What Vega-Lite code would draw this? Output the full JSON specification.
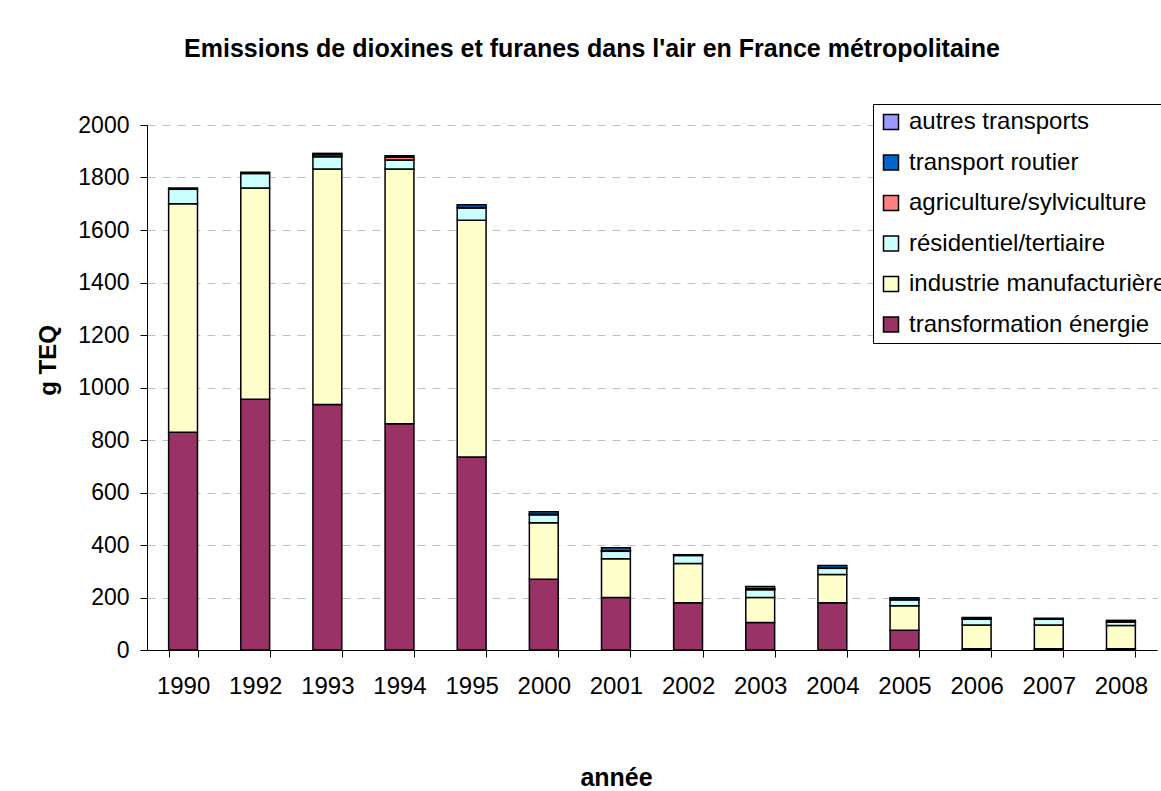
{
  "$schema": "https://vega.github.io/schema/vega-lite/v6.json",
  "width": 1010,
  "height": 525,
  "autosize": "none",
  "padding": {"left": 147, "top": 125, "right": 4, "bottom": 141},
  "background": "white",
  "title": {
    "text": "Emissions de dioxines et furanes dans l'air en France métropolitaine",
    "font": "Liberation Sans",
    "fontSize": 25,
    "fontWeight": "bold",
    "color": "black",
    "anchor": "middle",
    "dx": -60,
    "offset": 42
  },
  "data": {
    "values": [
      {"annee": "1990", "secteur": "transformation énergie", "valeur": 830},
      {"annee": "1990", "secteur": "industrie manufacturière", "valeur": 870},
      {"annee": "1990", "secteur": "résidentiel/tertiaire", "valeur": 55},
      {"annee": "1990", "secteur": "transport routier", "valeur": 5},
      {"annee": "1992", "secteur": "transformation énergie", "valeur": 955},
      {"annee": "1992", "secteur": "industrie manufacturière", "valeur": 805},
      {"annee": "1992", "secteur": "résidentiel/tertiaire", "valeur": 55},
      {"annee": "1992", "secteur": "transport routier", "valeur": 5},
      {"annee": "1993", "secteur": "transformation énergie", "valeur": 935},
      {"annee": "1993", "secteur": "industrie manufacturière", "valeur": 897},
      {"annee": "1993", "secteur": "résidentiel/tertiaire", "valeur": 47},
      {"annee": "1993", "secteur": "agriculture/sylviculture", "valeur": 2},
      {"annee": "1993", "secteur": "transport routier", "valeur": 8},
      {"annee": "1993", "secteur": "autres transports", "valeur": 3},
      {"annee": "1994", "secteur": "transformation énergie", "valeur": 862},
      {"annee": "1994", "secteur": "industrie manufacturière", "valeur": 970},
      {"annee": "1994", "secteur": "résidentiel/tertiaire", "valeur": 35},
      {"annee": "1994", "secteur": "agriculture/sylviculture", "valeur": 10},
      {"annee": "1994", "secteur": "transport routier", "valeur": 6},
      {"annee": "1995", "secteur": "transformation énergie", "valeur": 735},
      {"annee": "1995", "secteur": "industrie manufacturière", "valeur": 902},
      {"annee": "1995", "secteur": "résidentiel/tertiaire", "valeur": 47},
      {"annee": "1995", "secteur": "agriculture/sylviculture", "valeur": 2},
      {"annee": "1995", "secteur": "transport routier", "valeur": 10},
      {"annee": "2000", "secteur": "transformation énergie", "valeur": 270},
      {"annee": "2000", "secteur": "industrie manufacturière", "valeur": 215},
      {"annee": "2000", "secteur": "résidentiel/tertiaire", "valeur": 30},
      {"annee": "2000", "secteur": "agriculture/sylviculture", "valeur": 2},
      {"annee": "2000", "secteur": "transport routier", "valeur": 10},
      {"annee": "2001", "secteur": "transformation énergie", "valeur": 200},
      {"annee": "2001", "secteur": "industrie manufacturière", "valeur": 148},
      {"annee": "2001", "secteur": "résidentiel/tertiaire", "valeur": 28},
      {"annee": "2001", "secteur": "agriculture/sylviculture", "valeur": 2},
      {"annee": "2001", "secteur": "transport routier", "valeur": 12},
      {"annee": "2002", "secteur": "transformation énergie", "valeur": 180},
      {"annee": "2002", "secteur": "industrie manufacturière", "valeur": 150},
      {"annee": "2002", "secteur": "résidentiel/tertiaire", "valeur": 30},
      {"annee": "2002", "secteur": "agriculture/sylviculture", "valeur": 1},
      {"annee": "2002", "secteur": "transport routier", "valeur": 2},
      {"annee": "2003", "secteur": "transformation énergie", "valeur": 105},
      {"annee": "2003", "secteur": "industrie manufacturière", "valeur": 95},
      {"annee": "2003", "secteur": "résidentiel/tertiaire", "valeur": 30},
      {"annee": "2003", "secteur": "agriculture/sylviculture", "valeur": 1},
      {"annee": "2003", "secteur": "transport routier", "valeur": 3},
      {"annee": "2003", "secteur": "autres transports", "valeur": 8},
      {"annee": "2004", "secteur": "transformation énergie", "valeur": 180},
      {"annee": "2004", "secteur": "industrie manufacturière", "valeur": 108},
      {"annee": "2004", "secteur": "résidentiel/tertiaire", "valeur": 23},
      {"annee": "2004", "secteur": "agriculture/sylviculture", "valeur": 1},
      {"annee": "2004", "secteur": "transport routier", "valeur": 10},
      {"annee": "2005", "secteur": "transformation énergie", "valeur": 75},
      {"annee": "2005", "secteur": "industrie manufacturière", "valeur": 94},
      {"annee": "2005", "secteur": "résidentiel/tertiaire", "valeur": 22},
      {"annee": "2005", "secteur": "agriculture/sylviculture", "valeur": 1},
      {"annee": "2005", "secteur": "transport routier", "valeur": 7},
      {"annee": "2006", "secteur": "transformation énergie", "valeur": 5},
      {"annee": "2006", "secteur": "industrie manufacturière", "valeur": 90},
      {"annee": "2006", "secteur": "résidentiel/tertiaire", "valeur": 22},
      {"annee": "2006", "secteur": "agriculture/sylviculture", "valeur": 1},
      {"annee": "2006", "secteur": "transport routier", "valeur": 6},
      {"annee": "2007", "secteur": "transformation énergie", "valeur": 5},
      {"annee": "2007", "secteur": "industrie manufacturière", "valeur": 90},
      {"annee": "2007", "secteur": "résidentiel/tertiaire", "valeur": 22},
      {"annee": "2007", "secteur": "agriculture/sylviculture", "valeur": 1},
      {"annee": "2007", "secteur": "transport routier", "valeur": 3},
      {"annee": "2008", "secteur": "transformation énergie", "valeur": 5},
      {"annee": "2008", "secteur": "industrie manufacturière", "valeur": 88},
      {"annee": "2008", "secteur": "résidentiel/tertiaire", "valeur": 14},
      {"annee": "2008", "secteur": "agriculture/sylviculture", "valeur": 1},
      {"annee": "2008", "secteur": "transport routier", "valeur": 5}
    ]
  },
  "transform": [
    {"calculate": "indexof(['transformation énergie', 'industrie manufacturière', 'résidentiel/tertiaire', 'agriculture/sylviculture', 'transport routier', 'autres transports'], datum.secteur)", "as": "rang"}
  ],
  "mark": {"type": "bar", "stroke": "black", "strokeWidth": 1.5},
  "encoding": {
    "x": {
      "field": "annee",
      "type": "ordinal",
      "scale": {"paddingInner": 0.6, "paddingOuter": 0.3},
      "axis": {
        "title": "année",
        "labelAngle": 0,
        "labelFont": "Liberation Sans",
        "labelFontSize": 24,
        "labelColor": "black",
        "labelPadding": 17,
        "tickBand": "extent",
        "tickColor": "black",
        "tickSize": 7,
        "domainColor": "black",
        "titleFont": "Liberation Sans",
        "titleFontSize": 25,
        "titleFontWeight": "bold",
        "titleColor": "black",
        "titleBaseline": "alphabetic",
        "titleX": 469,
        "titleY": 135
      }
    },
    "y": {
      "field": "valeur",
      "type": "quantitative",
      "aggregate": "sum",
      "stack": "zero",
      "scale": {"domain": [0, 2000], "nice": false},
      "axis": {
        "title": "g TEQ",
        "format": "d",
        "values": [0, 200, 400, 600, 800, 1000, 1200, 1400, 1600, 1800, 2000],
        "labelFont": "Liberation Sans",
        "labelFontSize": 23,
        "labelColor": "black",
        "labelPadding": 11,
        "tickColor": "black",
        "tickSize": 7,
        "domainColor": "black",
        "grid": true,
        "gridColor": "#c0c0c0",
        "gridDash": [8, 7],
        "titleFont": "Liberation Sans",
        "titleFontSize": 24,
        "titleFontWeight": "bold",
        "titleColor": "black",
        "titleAngle": -90,
        "titleAlign": "center",
        "titleBaseline": "alphabetic",
        "titleX": -92,
        "titleY": 235
      }
    },
    "order": {"field": "rang", "type": "quantitative", "sort": "ascending"},
    "color": {
      "field": "secteur",
      "type": "nominal",
      "scale": {
        "domain": ["autres transports", "transport routier", "agriculture/sylviculture", "résidentiel/tertiaire", "industrie manufacturière", "transformation énergie"],
        "range": ["#9999FF", "#0066CC", "#FF8080", "#CCFFFF", "#FFFFCC", "#993366"]
      },
      "legend": {
        "title": null,
        "orient": "none",
        "legendX": 726,
        "legendY": -21,
        "symbolType": "square",
        "symbolSize": 225,
        "symbolStrokeColor": "black",
        "symbolStrokeWidth": 1.5,
        "symbolOpacity": 1,
        "labelFont": "Liberation Sans",
        "labelFontSize": 24,
        "labelColor": "black",
        "labelLimit": 400,
        "labelOffset": 6,
        "rowPadding": 16.5,
        "padding": 6,
        "strokeColor": "black",
        "fillColor": "white"
      }
    }
  },
  "config": {
    "view": {"stroke": null},
    "axis": {"domainWidth": 1, "tickWidth": 1}
  }
}
